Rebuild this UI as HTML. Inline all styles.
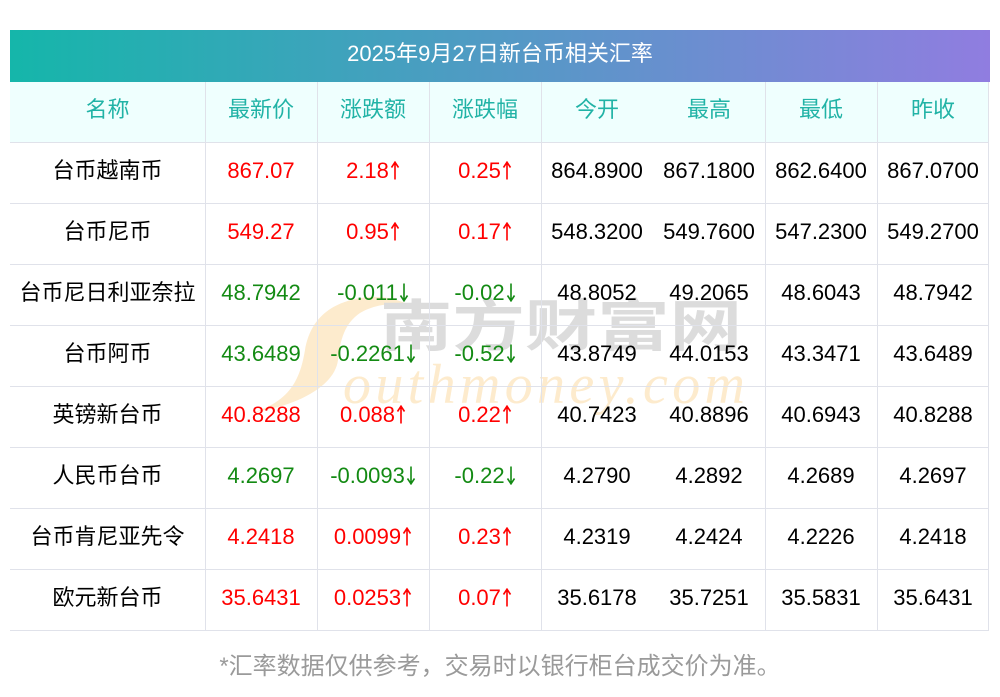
<!DOCTYPE html>
<html><head><meta charset="utf-8">
<style>
*{margin:0;padding:0;box-sizing:border-box}
html,body{width:1000px;height:697px;background:#fff;overflow:hidden}
body{position:relative;font-family:"Liberation Sans","Noto Sans CJK SC",sans-serif;}
.title{position:absolute;left:10px;top:30px;width:980px;height:52px;background:linear-gradient(90deg,#15b6aa,#907de0);}
.title span{position:absolute;left:0;top:-2px;width:100%;text-align:center;color:#fff;font-size:22px;line-height:52px;}
.hdr{position:absolute;left:10px;top:82px;width:979px;height:60px;background:#effffe}
.h{position:absolute;left:10px;width:979px;height:1px;background:#e0e2ea}
.v{position:absolute;top:82px;width:1px;height:549px;background:#e0e2ea}
.c{position:absolute;width:112px;text-align:center;font-size:22px;line-height:60px;height:60px;white-space:nowrap;color:#000}
.n{width:195px;left:10px}
.k1{left:205px}.k2{left:317px}.k3{left:429px}.k4{left:541px}.k5{left:653px}.k6{left:765px}.k7{left:877px}
.th{color:#21b3a6}
.r{color:#ff0000}.g{color:#138a13}
.foot{position:absolute;left:0;top:650px;width:1000px;text-align:center;font-size:24px;line-height:34px;color:#9a9a9a}
.wm{position:absolute;left:0;top:0}
.a{display:inline-block;width:10px;height:19px;vertical-align:-2px;margin-left:1px}
</style></head>
<body>
<div class="title"><span>2025年9月27日新台币相关汇率</span></div>
<div class="hdr"></div>

<svg class="wm" width="1000" height="697" viewBox="0 0 1000 697">
  <path d="M255 412 C290 400,300 380,305 350 C310 320,330 300,370 297 C385 296,400 300,412 306 C395 302,375 304,360 313 C345 323,340 340,338 360 C335 385,300 405,255 412 Z" fill="#fdebcd"/>
  <text x="380" y="346" font-family="Noto Sans CJK SC" font-weight="bold" font-size="56" fill="#dcdcdc" textLength="362" lengthAdjust="spacingAndGlyphs">南方财富网</text>
  <text x="343" y="403" font-family="Liberation Serif" font-style="italic" font-size="56" fill="#fdebcd" textLength="402" lengthAdjust="spacing">outhmoney.com</text>
</svg>

<div class="h" style="top:142px"></div>
<div class="h" style="top:203px"></div>
<div class="h" style="top:264px"></div>
<div class="h" style="top:325px"></div>
<div class="h" style="top:386px"></div>
<div class="h" style="top:447px"></div>
<div class="h" style="top:508px"></div>
<div class="h" style="top:569px"></div>
<div class="h" style="top:630px"></div>
<div class="v" style="left:205px"></div>
<div class="v" style="left:317px"></div>
<div class="v" style="left:429px"></div>
<div class="v" style="left:541px"></div>
<div class="v" style="left:765px"></div>
<div class="v" style="left:877px"></div>
<div class="v" style="left:988px"></div>

<!-- header -->
<div class="c n th" style="top:80px">名称</div>
<div class="c k1 th" style="top:80px">最新价</div>
<div class="c k2 th" style="top:80px">涨跌额</div>
<div class="c k3 th" style="top:80px">涨跌幅</div>
<div class="c k4 th" style="top:80px">今开</div>
<div class="c k5 th" style="top:80px">最高</div>
<div class="c k6 th" style="top:80px">最低</div>
<div class="c k7 th" style="top:80px">昨收</div>

<!-- row 1 -->
<div class="c n" style="top:141px">台币越南币</div>
<div class="c k1 r" style="top:141px">867.07</div>
<div class="c k2 r" style="top:141px">2.18<svg class="a" viewBox="0 0 10 19"><path d="M5 18.5V2M1.5 6.5L5 1.2 8.5 6.5" stroke="currentColor" fill="none" stroke-width="1.6"/></svg></div>
<div class="c k3 r" style="top:141px">0.25<svg class="a" viewBox="0 0 10 19"><path d="M5 18.5V2M1.5 6.5L5 1.2 8.5 6.5" stroke="currentColor" fill="none" stroke-width="1.6"/></svg></div>
<div class="c k4" style="top:141px">864.8900</div>
<div class="c k5" style="top:141px">867.1800</div>
<div class="c k6" style="top:141px">862.6400</div>
<div class="c k7" style="top:141px">867.0700</div>

<!-- row 2 -->
<div class="c n" style="top:202px">台币尼币</div>
<div class="c k1 r" style="top:202px">549.27</div>
<div class="c k2 r" style="top:202px">0.95<svg class="a" viewBox="0 0 10 19"><path d="M5 18.5V2M1.5 6.5L5 1.2 8.5 6.5" stroke="currentColor" fill="none" stroke-width="1.6"/></svg></div>
<div class="c k3 r" style="top:202px">0.17<svg class="a" viewBox="0 0 10 19"><path d="M5 18.5V2M1.5 6.5L5 1.2 8.5 6.5" stroke="currentColor" fill="none" stroke-width="1.6"/></svg></div>
<div class="c k4" style="top:202px">548.3200</div>
<div class="c k5" style="top:202px">549.7600</div>
<div class="c k6" style="top:202px">547.2300</div>
<div class="c k7" style="top:202px">549.2700</div>

<!-- row 3 -->
<div class="c n" style="top:263px">台币尼日利亚奈拉</div>
<div class="c k1 g" style="top:263px">48.7942</div>
<div class="c k2 g" style="top:263px">-0.011<svg class="a" viewBox="0 0 10 19"><path d="M5 0.5V17M1.5 12.5L5 17.8 8.5 12.5" stroke="currentColor" fill="none" stroke-width="1.6"/></svg></div>
<div class="c k3 g" style="top:263px">-0.02<svg class="a" viewBox="0 0 10 19"><path d="M5 0.5V17M1.5 12.5L5 17.8 8.5 12.5" stroke="currentColor" fill="none" stroke-width="1.6"/></svg></div>
<div class="c k4" style="top:263px">48.8052</div>
<div class="c k5" style="top:263px">49.2065</div>
<div class="c k6" style="top:263px">48.6043</div>
<div class="c k7" style="top:263px">48.7942</div>

<!-- row 4 -->
<div class="c n" style="top:324px">台币阿币</div>
<div class="c k1 g" style="top:324px">43.6489</div>
<div class="c k2 g" style="top:324px">-0.2261<svg class="a" viewBox="0 0 10 19"><path d="M5 0.5V17M1.5 12.5L5 17.8 8.5 12.5" stroke="currentColor" fill="none" stroke-width="1.6"/></svg></div>
<div class="c k3 g" style="top:324px">-0.52<svg class="a" viewBox="0 0 10 19"><path d="M5 0.5V17M1.5 12.5L5 17.8 8.5 12.5" stroke="currentColor" fill="none" stroke-width="1.6"/></svg></div>
<div class="c k4" style="top:324px">43.8749</div>
<div class="c k5" style="top:324px">44.0153</div>
<div class="c k6" style="top:324px">43.3471</div>
<div class="c k7" style="top:324px">43.6489</div>

<!-- row 5 -->
<div class="c n" style="top:385px">英镑新台币</div>
<div class="c k1 r" style="top:385px">40.8288</div>
<div class="c k2 r" style="top:385px">0.088<svg class="a" viewBox="0 0 10 19"><path d="M5 18.5V2M1.5 6.5L5 1.2 8.5 6.5" stroke="currentColor" fill="none" stroke-width="1.6"/></svg></div>
<div class="c k3 r" style="top:385px">0.22<svg class="a" viewBox="0 0 10 19"><path d="M5 18.5V2M1.5 6.5L5 1.2 8.5 6.5" stroke="currentColor" fill="none" stroke-width="1.6"/></svg></div>
<div class="c k4" style="top:385px">40.7423</div>
<div class="c k5" style="top:385px">40.8896</div>
<div class="c k6" style="top:385px">40.6943</div>
<div class="c k7" style="top:385px">40.8288</div>

<!-- row 6 -->
<div class="c n" style="top:446px">人民币台币</div>
<div class="c k1 g" style="top:446px">4.2697</div>
<div class="c k2 g" style="top:446px">-0.0093<svg class="a" viewBox="0 0 10 19"><path d="M5 0.5V17M1.5 12.5L5 17.8 8.5 12.5" stroke="currentColor" fill="none" stroke-width="1.6"/></svg></div>
<div class="c k3 g" style="top:446px">-0.22<svg class="a" viewBox="0 0 10 19"><path d="M5 0.5V17M1.5 12.5L5 17.8 8.5 12.5" stroke="currentColor" fill="none" stroke-width="1.6"/></svg></div>
<div class="c k4" style="top:446px">4.2790</div>
<div class="c k5" style="top:446px">4.2892</div>
<div class="c k6" style="top:446px">4.2689</div>
<div class="c k7" style="top:446px">4.2697</div>

<!-- row 7 -->
<div class="c n" style="top:507px">台币肯尼亚先令</div>
<div class="c k1 r" style="top:507px">4.2418</div>
<div class="c k2 r" style="top:507px">0.0099<svg class="a" viewBox="0 0 10 19"><path d="M5 18.5V2M1.5 6.5L5 1.2 8.5 6.5" stroke="currentColor" fill="none" stroke-width="1.6"/></svg></div>
<div class="c k3 r" style="top:507px">0.23<svg class="a" viewBox="0 0 10 19"><path d="M5 18.5V2M1.5 6.5L5 1.2 8.5 6.5" stroke="currentColor" fill="none" stroke-width="1.6"/></svg></div>
<div class="c k4" style="top:507px">4.2319</div>
<div class="c k5" style="top:507px">4.2424</div>
<div class="c k6" style="top:507px">4.2226</div>
<div class="c k7" style="top:507px">4.2418</div>

<!-- row 8 -->
<div class="c n" style="top:568px">欧元新台币</div>
<div class="c k1 r" style="top:568px">35.6431</div>
<div class="c k2 r" style="top:568px">0.0253<svg class="a" viewBox="0 0 10 19"><path d="M5 18.5V2M1.5 6.5L5 1.2 8.5 6.5" stroke="currentColor" fill="none" stroke-width="1.6"/></svg></div>
<div class="c k3 r" style="top:568px">0.07<svg class="a" viewBox="0 0 10 19"><path d="M5 18.5V2M1.5 6.5L5 1.2 8.5 6.5" stroke="currentColor" fill="none" stroke-width="1.6"/></svg></div>
<div class="c k4" style="top:568px">35.6178</div>
<div class="c k5" style="top:568px">35.7251</div>
<div class="c k6" style="top:568px">35.5831</div>
<div class="c k7" style="top:568px">35.6431</div>

<div class="foot">*汇率数据仅供参考，交易时以银行柜台成交价为准。</div>
</body></html>
